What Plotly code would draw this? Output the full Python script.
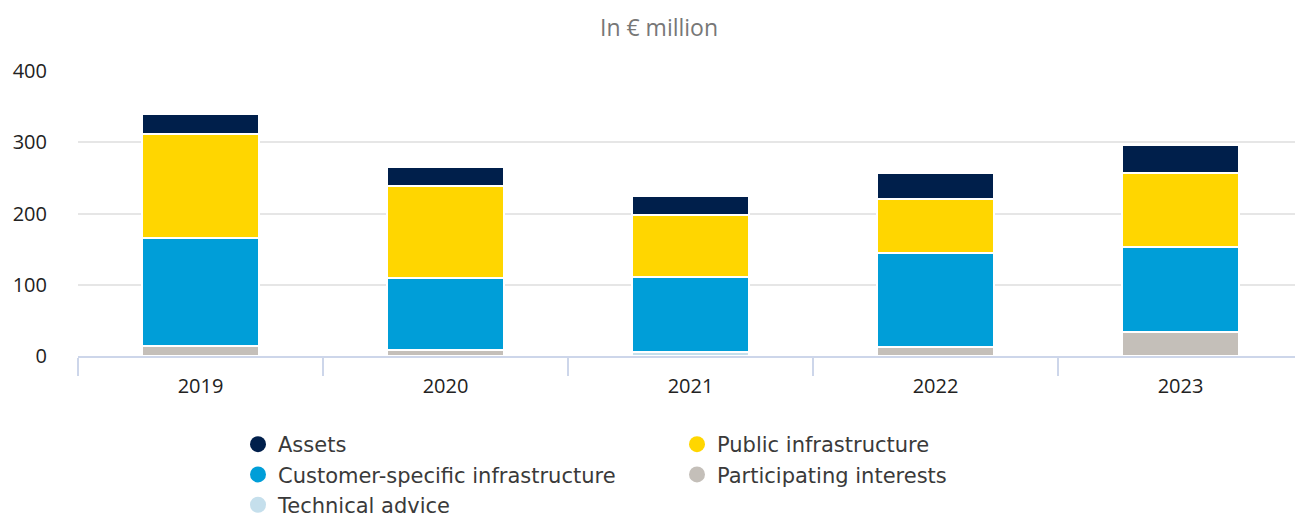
import plotly.graph_objects as go

years = ["2019", "2020", "2021", "2022", "2023"]
technical_advice = [0, 0, 5, 0, 0]
participating_interests = [14, 8, 0, 13, 33]
customer_specific = [151, 101, 106, 132, 120]
public_infrastructure = [146, 129, 87, 76, 104]
assets = [28, 27, 27, 36, 39]
y_ticks = [0, 100, 200, 300, 400]

colors = {
    "Technical advice": "#c5dfec",
    "Participating interests": "#c4bfb9",
    "Customer-specific infrastructure": "#009ed8",
    "Public infrastructure": "#ffd600",
    "Assets": "#001f4b",
}

stack = [
    ("Technical advice", technical_advice),
    ("Participating interests", participating_interests),
    ("Customer-specific infrastructure", customer_specific),
    ("Public infrastructure", public_infrastructure),
    ("Assets", assets),
]

fig = go.Figure()
for name, vals in stack:
    fig.add_trace(go.Bar(
        x=years, y=vals, name=name, showlegend=False,
        marker=dict(color=colors[name], line=dict(color="white", width=2)),
        width=0.48,
    ))

legend_order = ["Assets", "Public infrastructure", "Customer-specific infrastructure",
                "Participating interests", "Technical advice"]
for name in legend_order:
    fig.add_trace(go.Scatter(
        x=[None], y=[None], mode="markers", name=name,
        marker=dict(symbol="circle", size=22, color=colors[name]),
    ))

fig.update_layout(
    barmode="stack",
    width=1295, height=516,
    margin=dict(l=78, r=0, t=71, b=159.5),
    paper_bgcolor="white", plot_bgcolor="white",
    title=dict(text="In € million", x=659/1295, xref="container", xanchor="center",
               y=1 - 28/516, yref="container", yanchor="middle",
               font=dict(family="Open Sans", size=23, color="#777777")),
    legend=dict(orientation="h", x=238/1295, xref="container", xanchor="left",
                y=1 - 424/516, yref="container", yanchor="top",
                entrywidth=394, entrywidthmode="pixels",
                font=dict(family="DejaVu Sans", size=21, color="#3a3a3a"),
                traceorder="normal", itemclick=False),
    xaxis=dict(type="category", range=[-0.5, -0.5 + 1217/245], automargin=False,
               showline=True, linecolor="#cdd6ea", linewidth=2,
               ticks="outside", tickson="boundaries", ticklen=18, tickwidth=2,
               tickcolor="#cdd6ea", showgrid=False, ticklabelstandoff=11,
               tickfont=dict(family="Open Sans", size=20, color="#222222")),
    yaxis=dict(range=[0, 400], tickvals=y_ticks, showgrid=True, gridcolor="#e6e6e6",
               gridwidth=2, zeroline=False, showline=False, automargin=False,
               ticklabelstandoff=30,
               tickfont=dict(family="Open Sans", size=20, color="#222222")),
)

fig.write_html("out.html", config={"displayModeBar": False},
               post_script="document.body.style.margin='0';")
